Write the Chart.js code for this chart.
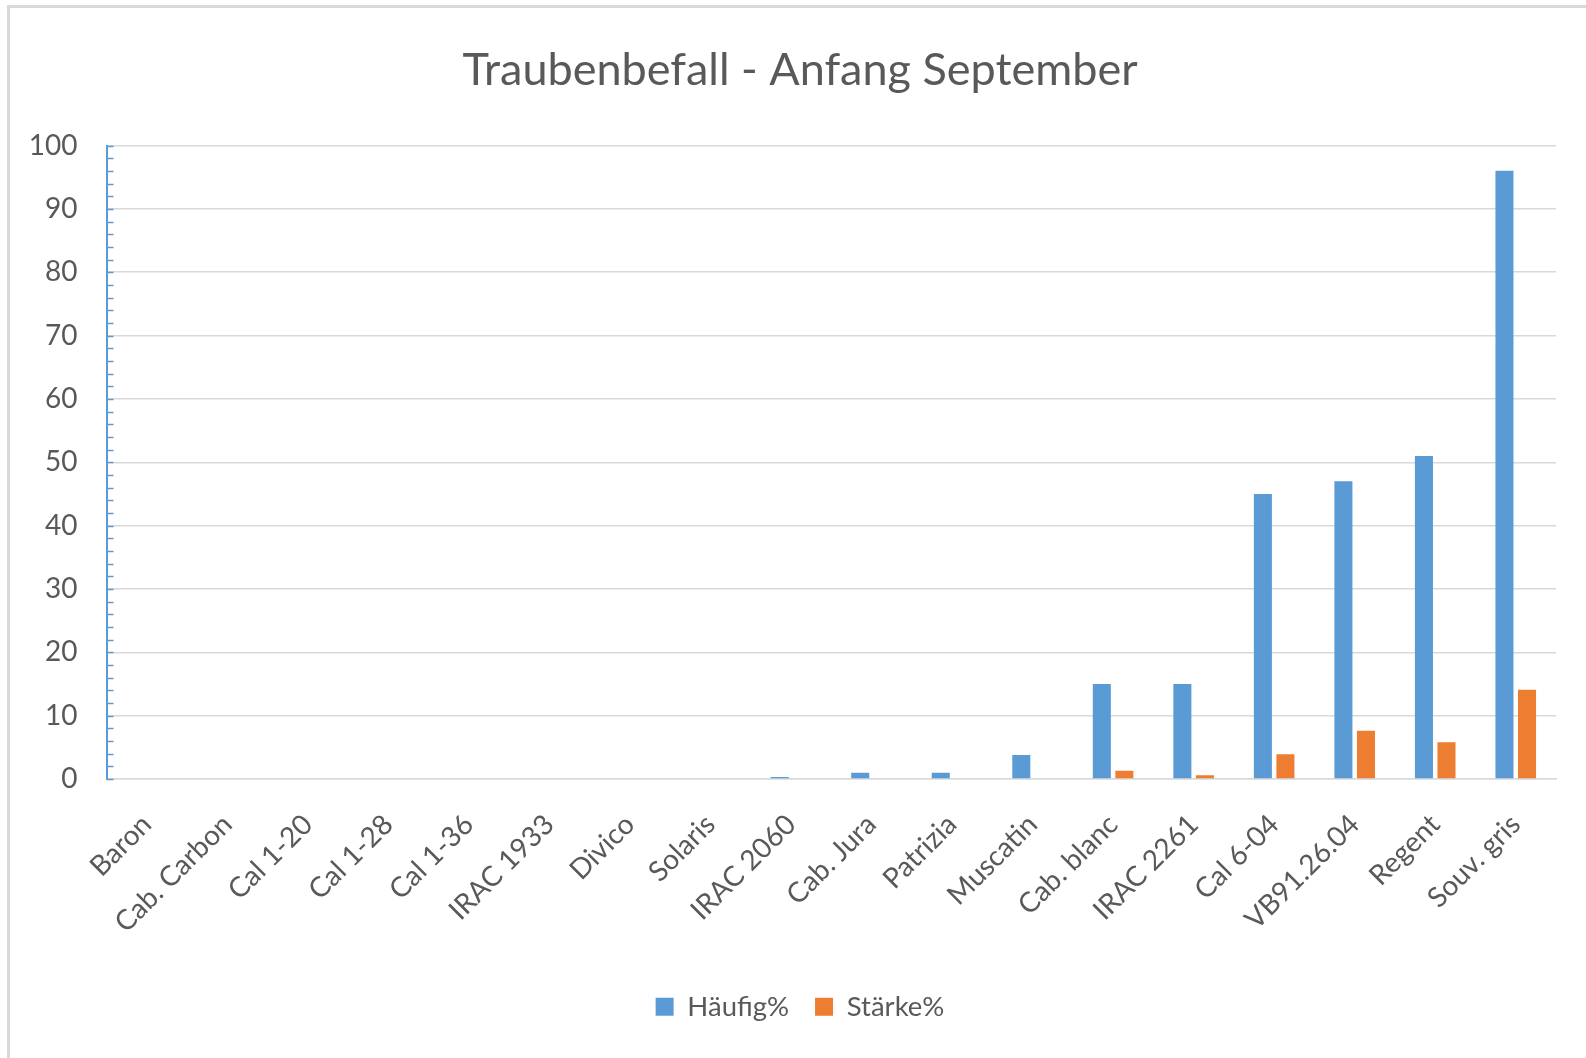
<!DOCTYPE html>
<html>
<head>
<meta charset="utf-8">
<script src="https://cdn.jsdelivr.net/npm/chart.js@4"></script>
<style>
  html, body { margin:0; padding:0; background:#fff; overflow:hidden; width:1586px; height:1058px; }
  #frame { position:absolute; left:7px; top:5px; width:2000px; height:2000px;
           border-left:3px solid #d9d9d9; border-top:3px solid #d9d9d9; box-sizing:border-box; }
  #c { position:absolute; left:0; top:0; }
</style>
</head>
<body>
<div id="frame"></div>
<canvas id="c" width="1586" height="1058"></canvas>
<script>
const categories = ['Baron','Cab. Carbon','Cal 1-20','Cal 1-28','Cal 1-36','IRAC 1933','Divico','Solaris','IRAC 2060','Cab. Jura','Patrizia','Muscatin','Cab. blanc','IRAC 2261','Cal 6-04','VB91.26.04','Regent','Souv. gris'];
const haeufig = [0,0,0,0,0,0,0,0,0.3,1,1,3.8,15,15,45,47,51,96];
const staerke = [0,0,0,0,0,0,0,0,0,0,0,0,1.3,0.6,3.9,7.6,5.8,14.1];
const seriesNames = ['Häufig%','Stärke%'];
const titleText = 'Traubenbefall - Anfang September';
const yMin = 0, yMax = 100, yMajorStep = 10, yMinorStep = 2;

const GRAY = '#595959';
const FONT = 'Lato, "Open Sans", sans-serif';

const minorTicks = {
  id: 'minorTicks',
  afterDatasetsDraw(chart) {
    const y = chart.scales.y;
    const ctx = chart.ctx;
    const x0 = chart.chartArea.left;
    ctx.save();
    ctx.strokeStyle = '#5B9BD5';
    ctx.lineWidth = 1.5;
    for (let v = yMin; v <= yMax; v += yMinorStep) {
      const py = Math.round(y.getPixelForValue(v)) + 0.5;
      ctx.beginPath();
      ctx.moveTo(x0, py);
      ctx.lineTo(x0 + 7, py);
      ctx.stroke();
    }
    ctx.restore();
  }
};

new Chart(document.getElementById('c'), {
  type: 'bar',
  data: {
    labels: categories,
    datasets: [
      { label: seriesNames[0], data: haeufig, backgroundColor: '#5B9BD5', borderWidth: 0 },
      { label: seriesNames[1], data: staerke, backgroundColor: '#ED7D31', borderWidth: 0 }
    ]
  },
  options: {
    responsive: false,
    animation: false,
    devicePixelRatio: 1,
    categoryPercentage: 0.56,
    barPercentage: 0.8,
    layout: { padding: { left: 44, right: 30, top: 0, bottom: 27.5 } },
    plugins: {
      title: {
        display: true, text: titleText, color: GRAY,
        font: { family: FONT, size: 45, weight: 'normal' },
        padding: { top: 43, bottom: 48.5 }
      },
      legend: {
        position: 'bottom',
        labels: {
          color: GRAY, boxWidth: 18, boxHeight: 18, padding: 26,
          font: { family: FONT, size: 27.5 }
        }
      },
      tooltip: { enabled: false }
    },
    scales: {
      x: {
        grid: { display: false },
        border: { display: true, color: '#d9d9d9', width: 1.5 },
        ticks: {
          color: GRAY, font: { family: FONT, size: 28 },
          minRotation: 45, maxRotation: 45, autoSkip: false, padding: 21
        },
        afterFit(s) { s.height = 188; }
      },
      y: {
        min: yMin, max: yMax,
        grid: { color: '#d9d9d9', lineWidth: 1.5, drawTicks: false },
        border: { display: true, color: '#5B9BD5', width: 2 },
        ticks: {
          stepSize: yMajorStep, color: GRAY, padding: 29,
          font: { family: FONT, size: 28 }
        },
        afterFit(s) { s.width = 62.5; s._computeLabelArea = () => undefined; }
      }
    }
  },
  plugins: [minorTicks]
});
</script>
</body>
</html>
